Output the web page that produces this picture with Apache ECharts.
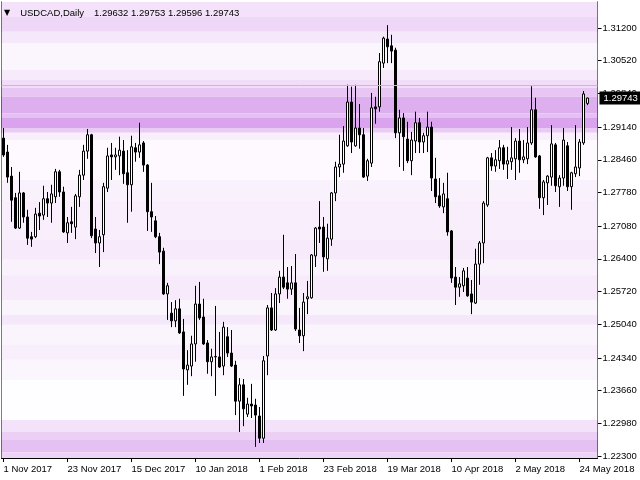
<!DOCTYPE html>
<html><head><meta charset="utf-8">
<script src="https://cdn.jsdelivr.net/npm/echarts@6/dist/echarts.min.js"></script>
<style>html,body{margin:0;padding:0;background:#fff}#c{width:640px;height:480px}</style>
</head><body><div id="c"></div>
<script>
const symbolName = 'USDCAD,Daily';
const lastQuote = [1.29632, 1.29753, 1.29596, 1.29743];
const startDate = '2017-11-01';
const holidays = ['2017-12-25', '2018-01-01'];
const padBars = 2;

const opens = [1.2891,1.2862,1.2812,1.2767,1.2704,1.2777,1.2727,1.2686,1.2686,1.2735,1.2731,1.2765,1.2756,1.2769,1.2821,1.2779,1.2694,1.2717,1.2706,1.2769,
1.2814,1.2864,1.2898,1.2702,1.2673,1.2690,1.2787,1.2856,1.2852,1.2854,1.2864,1.2819,1.2794,1.2871,1.2862,1.2881,1.2835,1.2738,1.2719,1.2686,
1.2656,1.2567,1.2527,1.2511,1.2536,1.2488,1.2409,1.2417,1.2463,1.2546,1.2519,1.2465,1.2426,1.2436,1.2436,1.2417,1.2478,1.2444,1.2419,1.2344,
1.2378,1.2317,1.2338,1.2336,1.2313,1.2267,1.2438,1.2538,1.2492,1.2567,1.2602,1.2590,1.2577,1.2590,1.2492,1.2480,1.2557,1.2559,1.2646,1.2706,
1.2706,1.2640,1.2681,1.2777,1.2831,1.2837,1.2875,1.2966,1.2875,1.2912,1.2898,1.2812,1.2839,1.2956,1.2956,1.3047,1.3097,1.3083,1.3074,1.2902,
1.2933,1.2889,1.2844,1.2885,1.2923,1.2883,1.2896,1.2914,1.2806,1.2771,1.2748,1.2765,1.2698,1.2602,1.2581,1.2584,1.2600,1.2567,1.2548,1.2629,
1.2673,1.2752,1.2850,1.2833,1.2844,1.2871,1.2837,1.2842,1.2848,1.2885,1.2846,1.2848,1.2881,1.2950,1.2854,1.2767,1.2798,1.2810,1.2877,1.2790,
1.2808,1.2875,1.2790,1.2817,1.2829,1.2881,1.29632];
const closes = [1.2856,1.2810,1.2762,1.2704,1.2777,1.2727,1.2683,1.2681,1.2733,1.2729,1.2765,1.2756,1.2775,1.2821,1.2779,1.2696,1.2715,1.2713,1.2771,1.2814,
1.2864,1.2898,1.2688,1.2673,1.2686,1.2790,1.2854,1.2852,1.2856,1.2866,1.2817,1.2794,1.2873,1.2862,1.2877,1.2835,1.2738,1.2727,1.2686,1.2654,
1.2567,1.2584,1.2511,1.2536,1.2486,1.2411,1.2419,1.2463,1.2546,1.2517,1.2463,1.2426,1.2436,1.2437,1.2415,1.2498,1.2444,1.2417,1.2344,1.2378,
1.2328,1.2338,1.2334,1.2315,1.2267,1.2428,1.2538,1.2492,1.2567,1.2602,1.2581,1.2577,1.2590,1.2494,1.2480,1.2550,1.2561,1.2648,1.2704,1.2702,
1.2644,1.2683,1.2777,1.2831,1.2837,1.2885,1.2966,1.2883,1.2912,1.2898,1.2810,1.2844,1.2954,1.2952,1.3050,1.3099,1.3081,1.3072,1.2902,1.2933,
1.2894,1.2844,1.2887,1.2923,1.2883,1.2896,1.2914,1.2808,1.2769,1.2750,1.2775,1.2696,1.2600,1.2581,1.2588,1.2615,1.2563,1.2550,1.2629,1.2673,
1.2756,1.2850,1.2833,1.2846,1.2871,1.2837,1.2844,1.2850,1.2885,1.2846,1.2852,1.2881,1.2950,1.2852,1.2767,1.2800,1.2812,1.2879,1.2792,1.2808,
1.2887,1.2790,1.2819,1.2831,1.2883,1.2983,1.29743];
const lows = [1.2852,1.2798,1.2717,1.2702,1.2702,1.2715,1.2669,1.2665,1.2683,1.2700,1.2721,1.2727,1.2715,1.2756,1.2769,1.2694,1.2673,1.2694,1.2681,1.2748,
1.2804,1.2848,1.2683,1.2652,1.2623,1.2654,1.2779,1.2804,1.2825,1.2814,1.2796,1.2715,1.2738,1.2842,1.2850,1.2821,1.2698,1.2696,1.2683,1.2629,
1.2565,1.2513,1.2498,1.2498,1.2484,1.2355,1.2378,1.2396,1.2426,1.2513,1.2461,1.2401,1.2396,1.2355,1.2413,1.2398,1.2436,1.2415,1.2315,1.2280,
1.2292,1.2311,1.2309,1.2249,1.2257,1.2257,1.2398,1.2490,1.2490,1.2548,1.2577,1.2557,1.2565,1.2490,1.2465,1.2448,1.2525,1.2557,1.2623,1.2673,
1.2613,1.2615,1.2667,1.2760,1.2810,1.2819,1.2873,1.2860,1.2873,1.2869,1.2808,1.2802,1.2831,1.2921,1.2946,1.3037,1.3047,1.3047,1.2891,1.2831,
1.2823,1.2839,1.2814,1.2860,1.2860,1.2860,1.2862,1.2781,1.2756,1.2746,1.2735,1.2688,1.2590,1.2544,1.2561,1.2571,1.2561,1.2525,1.2546,1.2586,
1.2631,1.2748,1.2823,1.2821,1.2827,1.2825,1.2806,1.2825,1.2804,1.2819,1.2839,1.2837,1.2877,1.2850,1.2744,1.2731,1.2752,1.2792,1.2779,1.2748,
1.2792,1.2781,1.2742,1.2810,1.2812,1.2877,1.29596];
const highs = [1.2912,1.2877,1.2831,1.2777,1.2821,1.2779,1.2742,1.2696,1.2746,1.2758,1.2792,1.2779,1.2794,1.2827,1.2825,1.2790,1.2727,1.2748,1.2775,1.2825,
1.2877,1.2910,1.2900,1.2727,1.2700,1.2798,1.2871,1.2881,1.2871,1.2894,1.2887,1.2866,1.2896,1.2881,1.2923,1.2885,1.2837,1.2798,1.2729,1.2694,
1.2663,1.2590,1.2550,1.2554,1.2557,1.2515,1.2450,1.2480,1.2584,1.2592,1.2557,1.2471,1.2453,1.2542,1.2488,1.2509,1.2498,1.2492,1.2428,1.2392,
1.2390,1.2351,1.2380,1.2349,1.2332,1.2438,1.2544,1.2569,1.2579,1.2615,1.2690,1.2623,1.2625,1.2650,1.2538,1.2569,1.2594,1.2650,1.2706,1.2760,
1.2727,1.2713,1.2779,1.2842,1.2898,1.2916,1.3002,1.2998,1.3002,1.2962,1.2912,1.2848,1.2985,1.2977,1.3068,1.3102,1.3126,1.3106,1.3079,1.2950,
1.2943,1.2925,1.2904,1.2946,1.2933,1.2902,1.2946,1.2925,1.2850,1.2808,1.2798,1.2819,1.2700,1.2623,1.2602,1.2621,1.2623,1.2596,1.2661,1.2677,
1.2760,1.2852,1.2860,1.2866,1.2887,1.2877,1.2873,1.2914,1.2891,1.2910,1.2887,1.2914,1.2999,1.2975,1.2856,1.2804,1.2814,1.2918,1.2881,1.2814,
1.2912,1.2883,1.2821,1.2918,1.2889,1.2989,1.29753];

const yTicks = [1.22300,1.22980,1.23660,1.24340,1.25040,1.25720,1.26400,1.27080,1.27780,1.28460,1.29140,1.29840,1.30520,1.31200];
const yMin = 1.22258, yMax = 1.31741;

// background price-profile bands (edges in price, shade 0..1)
const bandEdges = [1.3174,1.3143,1.3112,1.3089,1.3033,1.3012,1.2995,1.2977,1.2943,1.2933,1.2912,1.2902,1.2887,1.2804,1.2762,1.2679,1.2638,1.2606,1.2554,1.2523,1.2503,1.2461,1.2430,1.2388,1.2305,1.2280,1.2263,1.2238,1.2226];
const bandShade = [0.25,0.35,0.2,0.08,0.18,0.3,0.5,0.7,0.55,0.8,0.45,0.15,0.05,0.12,0.15,0.18,0.12,0.18,0.1,0.2,0.1,0.15,0.08,0.02,0.25,0.42,0.55,0.38];

// trading-day categories
const mon = ['Jan','Feb','Mar','Apr','May','Jun','Jul','Aug','Sep','Oct','Nov','Dec'];
const cats = [];
{
  let d = new Date(startDate + 'T00:00:00Z');
  while (cats.length < opens.length + padBars) {
    const wd = d.getUTCDay();
    const iso = d.toISOString().slice(0,10);
    if (wd !== 0 && wd !== 6 && holidays.indexOf(iso) < 0) {
      cats.push(d.getUTCDate() + ' ' + mon[d.getUTCMonth()] + ' ' + d.getUTCFullYear());
    }
    d = new Date(d.getTime() + 86400000);
  }
}

const candles = opens.map((o, i) => [o, closes[i], lows[i], highs[i]]);

function shadeColor(s) {
  const r = Math.round(255 - s * 48), g = Math.round(255 - s * 115), b = Math.round(255 - s * 23);
  return 'rgb(' + r + ',' + g + ',' + b + ')';
}
const bands = bandShade.map((s, i) => [
  { yAxis: bandEdges[i + 1], itemStyle: { color: shadeColor(s) } },
  { yAxis: bandEdges[i] }
]);

const FONT = 'Liberation Sans';
const chart = echarts.init(document.getElementById('c'), null, { renderer: 'canvas' });
chart.setOption({
  animation: false,
  backgroundColor: '#fff',
  title: {
    left: 4, top: 4, padding: 0,
    text: '{tri|\u25BC}  {n|' + symbolName + '}  {n|' + lastQuote.map(v => v.toFixed(5)).join(' ') + '}',
    textStyle: {
      fontWeight: 'normal',
      rich: {
        tri: { fontSize: 8, color: '#000', fontFamily: 'DejaVu Sans', fontWeight: 'normal' },
        n: { fontSize: 9.5, color: '#000', fontFamily: FONT, fontWeight: 'normal' }
      }
    }
  },
  grid: { left: 1.5, right: 42.5, top: 2, bottom: 22, show: false, containLabel: false, outerBoundsMode: 'none' },
  xAxis: {
    type: 'category', data: cats, boundaryGap: true,
    axisLine: { show: true, lineStyle: { color: '#000', width: 1 } },
    axisTick: { show: true, interval: 15, alignWithLabel: true, length: 4, lineStyle: { color: '#000' } },
    axisLabel: { interval: 15, align: 'left', margin: 6, color: '#000', fontSize: 9.5, fontFamily: FONT },
    splitLine: { show: false }
  },
  yAxis: [{
    type: 'value', position: 'right', min: yMin, max: yMax, scale: true,
    axisLine: { show: true, lineStyle: { color: '#000', width: 1 } },
    axisTick: { show: true, length: 4, customValues: yTicks, lineStyle: { color: '#000' } },
    axisLabel: { customValues: yTicks, formatter: v => v.toFixed(5), margin: 5, color: '#000', fontSize: 9.5, fontFamily: FONT },
    splitLine: { show: false }
  }, {
    type: 'value', position: 'left', min: yMin, max: yMax, scale: true,
    axisLine: { show: true, onZero: false, lineStyle: { color: '#000', width: 1 } },
    axisTick: { show: false }, axisLabel: { show: false }, splitLine: { show: false }
  }, {
    type: 'value', position: 'right', min: yMin, max: yMax, scale: true, z: 10,
    axisLine: { show: false }, axisTick: { show: false }, splitLine: { show: false },
    axisLabel: {
      customValues: [lastQuote[3]], formatter: v => v.toFixed(5), margin: 2,
      color: '#fff', backgroundColor: '#000', padding: [2, 3, 1, 4],
      fontSize: 9.5, fontFamily: FONT
    }
  }],
  series: [
    {
      type: 'line', data: [], z: 1, silent: true,
      markArea: { silent: true, data: bands }
    },
    {
      type: 'candlestick', data: candles, z: 3, barWidth: 2,
      itemStyle: { color: '#fff', color0: '#000', borderColor: '#000', borderColor0: '#000', borderColorDoji: '#000', borderWidth: 1 },
      markLine: {
        silent: true, symbol: 'none', animation: false,
        lineStyle: { color: '#c0c0c0', width: 1, type: 'solid' },
        label: { show: false },
        data: [{ yAxis: lastQuote[3] }]
      }
    }
  ]
});
</script>
</body></html>
